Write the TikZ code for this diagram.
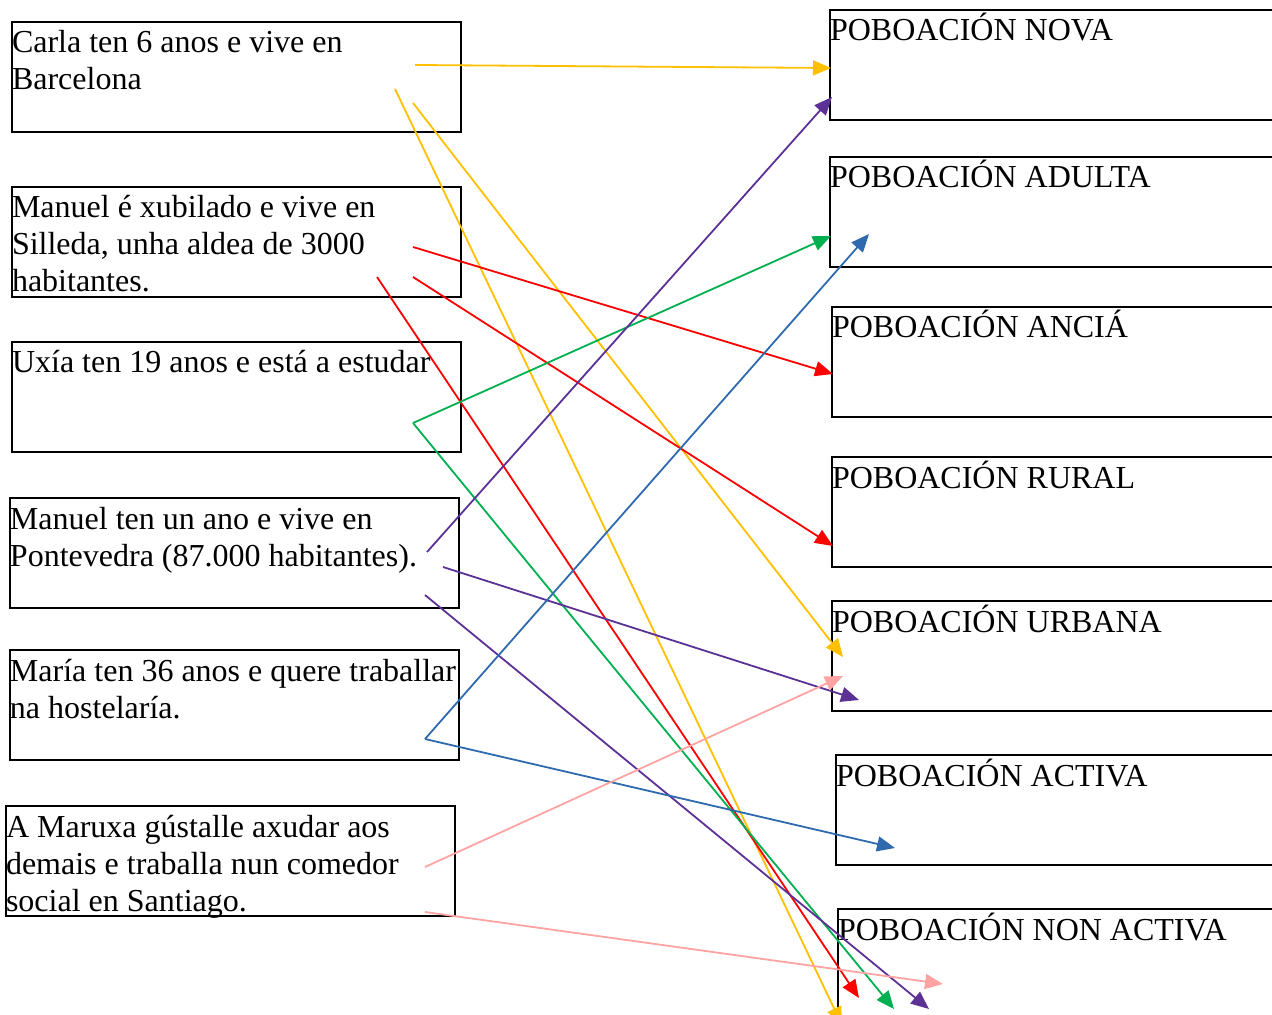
\documentclass[tikz,border=0pt]{standalone}
\usepackage{fontspec}
\setmainfont{Liberation Serif}
\usetikzlibrary{arrows.meta}
\definecolor{amarelo}{HTML}{FFC000}
\definecolor{vermello}{HTML}{FF0000}
\definecolor{verde}{HTML}{00B050}
\definecolor{violeta}{HTML}{5B3196}
\definecolor{azul}{HTML}{2F6AAE}
\definecolor{rosa}{HTML}{FFA3A3}
\tikzstyle{esq}=[draw, line width=1pt, inner sep=0pt, outer sep=0pt, anchor=north west,
 minimum width=224.5pt, minimum height=55pt]
\tikzstyle{der}=[draw, line width=1pt, inner sep=0pt, outer sep=0pt, anchor=north west,
 minimum width=240pt, minimum height=55pt]
\tikzstyle{texto}=[anchor=north west, inner sep=0pt, outer sep=0pt, align=left,
 font=\fontsize{16pt}{18.5pt}\selectfont]
\tikzstyle{frecha}=[-{Triangle[length=9pt,width=7.5pt]}, line width=0.9pt]
\newcommand{\liña}{\rule{0pt}{15.5pt}}

\begin{document}
\begin{tikzpicture}[x=0.5pt,y=-0.5pt]

	\useasboundingbox (0,0) rectangle (1272,1015);
	\clip (0,0) rectangle (1272,1015);

		% Situacions (esquerda)
		\foreach \xpos/\ypos/\lab in {12/22/carla, 12/187/xubilado, 12/342/uxia, 10/498/bebe, 10/650/maria, 6/806/maruxa}
		\node[esq] (\lab) at (\xpos,\ypos) {};
		\node[texto] at (carla.north west) {\liña Carla ten 6 anos e vive en\\Barcelona};
		\node[texto] at (xubilado.north west) {\liña Manuel é xubilado e vive en\\Silleda, unha aldea de 3000\\habitantes.};
		\node[texto] at (uxia.north west) {\liña Uxía ten 19 anos e está a estudar};
		\node[texto] at (bebe.north west) {\liña Manuel ten un ano e vive en\\Pontevedra (87.000 habitantes).};
		\node[texto] at (maria.north west) {\liña María ten 36 anos e quere traballar\\na hostelaría.};
		\node[texto] at (maruxa.north west) {\liña A Maruxa gústalle axudar aos\\demais e traballa nun comedor\\social en Santiago.};

		% Poboacions (dereita)
		\foreach \xpos/\ypos/\lab/\txt in {830/10/nova/NOVA, 830/157/adulta/ADULTA, 832/307/ancia/ANCIÁ, 832/457/rural/RURAL,
			832/601/urbana/URBANA, 836/755/activa/ACTIVA, 838/909/nonactiva/NON ACTIVA}
		{
		\node[der] (\lab) at (\xpos,\ypos) {};
		\node[texto] at (\lab.north west) {\liña POBOACIÓN \txt};
		}

		% Extremos das frechas
		\foreach \xpos/\ypos/\lab in {415/65/c1, 395/89/c2, 413/103/c3, 413/247/x1, 413/277/x2, 377/277/x3,
			413/423/u0, 427/552/b1, 443/567/b2, 425/595/b3, 425/739/m0, 425/867/r1, 425/912/r2}
		\node[coordinate] (\lab) at (\xpos,\ypos) {};
		\foreach \xpos/\ypos/\lab in {831/68/tnova, 832/97/tnova2, 831/236/tadulta, 869/234/tadulta2, 833/374/tancia,
			833/546/trural, 843/657/turbana, 843/676/turbana2, 859/700/turbana3, 895/848/tactiva,
			842/1025/tnon1, 859/998/tnon2, 894/1009/tnon3, 929/1009/tnon4, 943/984/tnon5}
		\node[coordinate] (\lab) at (\xpos,\ypos) {};

		\foreach \from/\to in {c1/tnova, c2/tnon1, c3/turbana}
		\draw[frecha, amarelo] (\from) -- (\to);
		\foreach \from/\to in {x1/tancia, x2/trural, x3/tnon2}
		\draw[frecha, vermello] (\from) -- (\to);
		\foreach \from/\to in {u0/tadulta, u0/tnon3}
		\draw[frecha, verde] (\from) -- (\to);
		\foreach \from/\to in {b1/tnova2, b2/turbana3, b3/tnon4}
		\draw[frecha, violeta] (\from) -- (\to);
		\foreach \from/\to in {m0/tadulta2, m0/tactiva}
		\draw[frecha, azul] (\from) -- (\to);
		\foreach \from/\to in {r1/turbana2, r2/tnon5}
		\draw[frecha, rosa] (\from) -- (\to);
\end{tikzpicture}
\end{document}
